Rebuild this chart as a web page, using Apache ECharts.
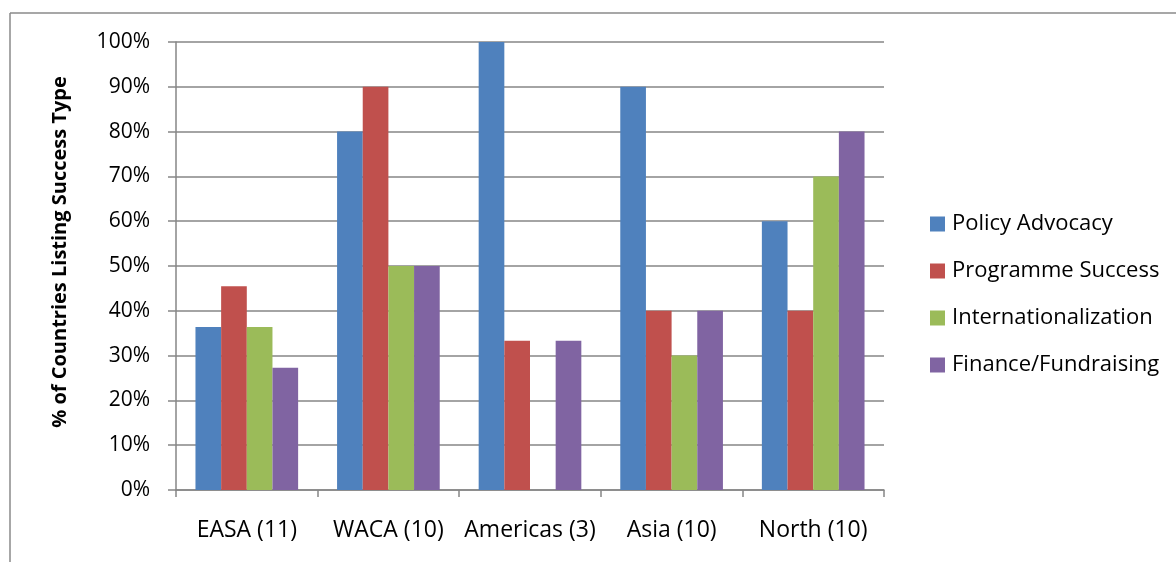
<!DOCTYPE html>
<html>
<head>
<meta charset="utf-8">
<script src="https://cdn.jsdelivr.net/npm/echarts@6/dist/echarts.min.js"></script>
<style>
  html, body { margin: 0; padding: 0; background: #fff; }
  #chart { width: 1176px; height: 562px; }
</style>
</head>
<body>
<div id="chart"></div>
<script>
// Regions (with number of countries) and share of countries listing each success type (%)
const categories = ['EASA (11)', 'WACA (10)', 'Americas (3)', 'Asia (10)', 'North (10)'];
const policyAdvocacy = [36.4, 80, 100, 90, 60];
const programmeSuccess = [45.5, 90, 33.3, 40, 40];
const internationalization = [36.4, 50, 0, 30, 70];
const financeFundraising = [27.3, 50, 33.3, 40, 80];
const seriesNames = ['Policy Advocacy', 'Programme Success', 'Internationalization', 'Finance/Fundraising'];
const seriesColors = ['#4F81BD', '#C0504D', '#9BBB59', '#8064A2'];

const FONT = '"Open Sans", "Noto Sans", sans-serif';
const chart = echarts.init(document.getElementById('chart'), null, { renderer: 'canvas' });

const values = [policyAdvocacy, programmeSuccess, internationalization, financeFundraising];

chart.setOption({
  animation: false,
  textStyle: { fontFamily: FONT },
  graphic: [
    { type: 'line', shape: { x1: 10, y1: 13, x2: 1176, y2: 13 }, style: { stroke: '#8a8a8a', lineWidth: 1.5 } },
    { type: 'line', shape: { x1: 10, y1: 13, x2: 10, y2: 562 }, style: { stroke: '#8a8a8a', lineWidth: 1.5 } }
  ],
  grid: { left: 176, right: 292, top: 42, bottom: 72, containLabel: false },
  legend: {
    orient: 'vertical',
    left: 925,
    top: 208,
    itemWidth: 15,
    itemHeight: 15,
    itemGap: 25,
    icon: 'rect',
    textStyle: { fontSize: 22, color: '#000', fontFamily: FONT, padding: [0, 0, 0, 2] },
    data: seriesNames
  },
  xAxis: {
    type: 'category',
    data: categories,
    axisLine: { lineStyle: { color: '#868686', width: 1.5 } },
    axisTick: { show: true, length: 7, interval: 0, alignWithLabel: false, lineStyle: { color: '#868686', width: 1.5 } },
    axisLabel: { fontSize: 23, interval: 0, color: '#000', margin: 29, fontFamily: FONT }
  },
  yAxis: {
    type: 'value',
    min: 0,
    max: 100,
    interval: 10,
    name: '% of Countries Listing Success Type',
    nameLocation: 'middle',
    nameGap: 106,
    nameTextStyle: { fontSize: 20, fontWeight: 'bold', color: '#000', fontFamily: FONT, padding: [0, 0, 0, 28] },
    axisLine: { show: true, lineStyle: { color: '#868686', width: 1.5 } },
    axisTick: { show: true, length: 8, inside: false, lineStyle: { color: '#868686', width: 1.5 } },
    axisLabel: { fontSize: 21, color: '#000', margin: 26, formatter: '{value}%', fontFamily: FONT },
    splitLine: { show: true, lineStyle: { color: '#868686', width: 1.5 } }
  },
  series: seriesNames.map((name, i) => ({
    name,
    type: 'bar',
    data: values[i],
    barGap: '0%',
    barCategoryGap: '27.5%',
    itemStyle: { color: seriesColors[i] }
  }))
});
</script>
</body>
</html>
